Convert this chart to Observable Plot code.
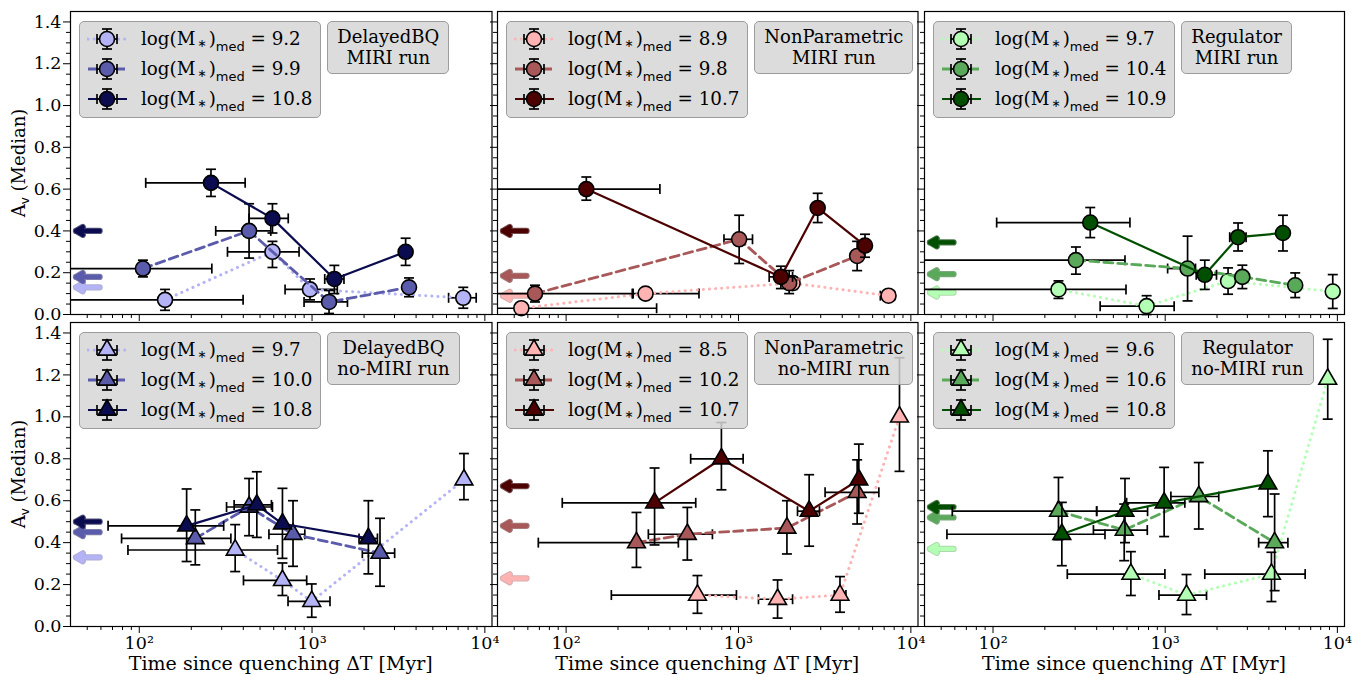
<!DOCTYPE html>
<html>
<head>
<meta charset="utf-8">
<script src="https://cdn.jsdelivr.net/npm/d3@7"></script>
<script src="https://cdn.jsdelivr.net/npm/@observablehq/plot@0.6"></script>
<style>
  body { margin: 0; background: #fff; }
  #fig { position: relative; width: 1365px; height: 675px; overflow: hidden;
         font-family: "DejaVu Serif", serif; color: #000; background: #fff; }
  #fig svg text { font-family: "DejaVu Serif", serif; }
  .overlay { position: absolute; display: flex; gap: 6px; align-items: flex-start; }
  .box { background: rgba(214, 214, 214, 0.85); border: 1px solid #9c9c9c; border-radius: 5px; }
  .legend { padding: 2px 8px 3px 7px; }
  .row { display: flex; align-items: center; height: 30px; white-space: nowrap; font-size: 18.3px; }
  .row svg { display: block; margin-right: 6px; flex: none; }
  .ast { font-family: "DejaVu Sans", sans-serif; font-size: 11px; position: relative; top: 2px; margin: 0 2px; }
  .med { font-family: "DejaVu Sans", sans-serif; font-size: 13px; position: relative; top: 6px; }
  .title { padding: 4px 9px 5px 9px; font-size: 18px; line-height: 21px; text-align: center; white-space: nowrap; }
  .ylab { position: absolute; font-size: 18px; white-space: nowrap; transform: translate(-50%, -50%) rotate(-90deg); }
  .ylab sub { font-family: "DejaVu Sans", sans-serif; font-size: 12px; }
  .xlab { position: absolute; font-size: 19px; white-space: nowrap; transform: translate(-50%, -50%); }
</style>
</head>
<body>
<div id="fig"></div>
<script>
// ---- Axis ticks ----
const xMajor = [1e2, 1e3, 1e4];
const xMinor = [50, 60, 70, 80, 90, 200, 300, 400, 500, 600, 700, 800, 900,
                2000, 3000, 4000, 5000, 6000, 7000, 8000, 9000];
const yMajor = [0, 0.2, 0.4, 0.6, 0.8, 1.0, 1.2, 1.4];
const yMinor = [0.05, 0.1, 0.15, 0.25, 0.3, 0.35, 0.45, 0.5, 0.55, 0.65, 0.7, 0.75,
                0.85, 0.9, 0.95, 1.05, 1.1, 1.15, 1.25, 1.3, 1.35];
const xDomain = [40, 11000];
const yDomain = [0, 1.45];

// Field-average reference values are marked with arrows spanning this range of ΔT
const arrowTail = 59;
const arrowTip = 43;

// ---- Series: [ΔT, Av, ΔT low, ΔT high, Av low, Av high] ----
// DelayedBQ, MIRI run
const dbqMiriMass = ["9.2", "9.9", "10.8"];
const dbqMiriLo  = [[141, 0.07, 20, 399, 0.02, 0.12], [590, 0.30, 324, 841, 0.225, 0.35],
                    [973, 0.12, 698, 1400, 0.07, 0.17], [7500, 0.08, 6170, 8910, 0.03, 0.13]];
const dbqMiriMid = [[105, 0.22, 20, 263, 0.18, 0.26], [432, 0.40, 277, 577, 0.27, 0.53],
                    [1254, 0.06, 899, 1603, 0.005, 0.115], [3640, 0.13, 3640, 3640, 0.085, 0.175]];
const dbqMiriHi  = [[260, 0.63, 109, 410, 0.565, 0.695], [590, 0.46, 432, 728, 0.39, 0.53],
                    [1346, 0.17, 1184, 1530, 0.10, 0.235], [3480, 0.30, 3480, 3480, 0.235, 0.365]];
const dbqMiriArrows = [0.13, 0.18, 0.40];

// NonParametric, MIRI run
const npMiriMass = ["8.9", "9.8", "10.7"];
const npMiriLo  = [[55, 0.03, 20, 335, 0.01, 0.05], [289, 0.10, 245, 590, 0.08, 0.12],
                   [2060, 0.15, 1950, 2200, 0.12, 0.18], [7420, 0.09, 6650, 8040, 0.065, 0.115]];
const npMiriMid = [[66, 0.10, 20, 242, 0.06, 0.14], [1009, 0.36, 824, 1206, 0.244, 0.475],
                   [1968, 0.15, 1850, 2100, 0.10, 0.21], [4880, 0.28, 4880, 4880, 0.21, 0.35]];
const npMiriHi  = [[131, 0.60, 20, 350, 0.547, 0.658], [1762, 0.18, 1507, 2060, 0.124, 0.231],
                   [2880, 0.51, 2880, 2880, 0.44, 0.58], [5420, 0.33, 5420, 5420, 0.274, 0.384]];
const npMiriArrows = [0.09, 0.185, 0.40];

// Regulator, MIRI run
const regMiriMass = ["9.7", "10.4", "10.9"];
const regMiriLo  = [[240, 0.12, 20, 592, 0.077, 0.161], [780, 0.04, 419, 1127, 0.0, 0.09],
                    [2318, 0.16, 2318, 2318, 0.097, 0.223], [9400, 0.11, 9400, 9400, 0.029, 0.191]];
const regMiriMid = [[303, 0.26, 20, 584, 0.193, 0.323], [1349, 0.22, 1033, 1500, 0.065, 0.375],
                    [2806, 0.18, 2806, 2806, 0.124, 0.236], [5690, 0.14, 5690, 5690, 0.081, 0.199]];
const regMiriHi  = [[367, 0.44, 105, 624, 0.368, 0.512], [1698, 0.19, 1514, 1986, 0.12, 0.26],
                    [2650, 0.37, 2370, 2950, 0.304, 0.438], [4830, 0.39, 4830, 4830, 0.304, 0.475]];
const regMiriArrows = [0.105, 0.193, 0.345];

// DelayedBQ, no-MIRI run
const dbqNoMass = ["9.7", "10.0", "10.8"];
const dbqNoLo  = [[359, 0.365, 86, 631, 0.262, 0.486], [674, 0.22, 401, 931, 0.148, 0.303],
                  [996, 0.12, 726, 1270, 0.044, 0.203], [7570, 0.70, 7570, 7570, 0.605, 0.825]];
const dbqNoMid = [[211, 0.42, 79, 339, 0.294, 0.556], [432, 0.57, 320, 590, 0.433, 0.706],
                  [776, 0.44, 563, 908, 0.287, 0.60], [2473, 0.35, 1954, 3006, 0.192, 0.516]];
const dbqNoHi  = [[188, 0.48, 66, 308, 0.31, 0.656], [479, 0.58, 354, 582, 0.425, 0.738],
                  [674, 0.49, 674, 674, 0.325, 0.659], [2118, 0.42, 1870, 2390, 0.251, 0.60]];
const dbqNoArrows = [0.33, 0.45, 0.50];

// NonParametric, no-MIRI run
const npNoMass = ["8.5", "10.2", "10.7"];
const npNoLo  = [[578, 0.15, 183, 973, 0.063, 0.243], [1686, 0.13, 1306, 2060, 0.04, 0.222],
                 [3880, 0.15, 3600, 4200, 0.068, 0.238], [8590, 1.00, 8590, 8590, 0.74, 1.282]];
const npNoMid = [[256, 0.40, 69, 448, 0.282, 0.544], [505, 0.44, 300, 706, 0.317, 0.568],
                 [1910, 0.47, 1910, 1910, 0.346, 0.60], [4880, 0.64, 3180, 6520, 0.489, 0.795]];
const npNoHi  = [[326, 0.59, 95, 565, 0.389, 0.756], [796, 0.80, 528, 1064, 0.652, 0.973],
                 [2570, 0.55, 2200, 2950, 0.383, 0.724], [4990, 0.70, 4990, 4990, 0.54, 0.87]];
const npNoArrows = [0.23, 0.48, 0.67];

// Regulator, no-MIRI run
const regNoMass = ["9.6", "10.6", "10.8"];
const regNoLo  = [[632, 0.25, 270, 996, 0.148, 0.357], [1330, 0.15, 920, 1738, 0.057, 0.248],
                  [4140, 0.25, 1698, 6500, 0.119, 0.354], [8790, 1.18, 8790, 8790, 0.989, 1.37]];
const regNoMid = [[240, 0.55, 58, 400, 0.414, 0.711], [578, 0.46, 383, 787, 0.314, 0.584],
                  [1567, 0.62, 1079, 2047, 0.465, 0.782], [4320, 0.40, 3490, 5160, 0.171, 0.632]];
const regNoHi  = [[251, 0.44, 54, 447, 0.29, 0.592], [584, 0.55, 400, 790, 0.40, 0.706],
                  [986, 0.59, 597, 1300, 0.429, 0.759], [3950, 0.68, 3950, 3950, 0.524, 0.838]];
const regNoArrows = [0.37, 0.52, 0.57];

// ---- Colours (low, intermediate, high mass) ----
const blues  = ["#b3b3f6", "#5b5bab", "#0b0b4f"];
const reds   = ["#ffb3b3", "#a85858", "#4d0000"];
const greens = ["#b3ffb3", "#5aa85a", "#004f00"];

const panels = [
  {col: 0, row: 0, title: ["DelayedBQ", "MIRI run"], series: [dbqMiriLo, dbqMiriMid, dbqMiriHi], mass: dbqMiriMass, arrows: dbqMiriArrows, colors: blues, symbol: "circle"},
  {col: 1, row: 0, title: ["NonParametric", "MIRI run"], series: [npMiriLo, npMiriMid, npMiriHi], mass: npMiriMass, arrows: npMiriArrows, colors: reds, symbol: "circle"},
  {col: 2, row: 0, title: ["Regulator", "MIRI run"], series: [regMiriLo, regMiriMid, regMiriHi], mass: regMiriMass, arrows: regMiriArrows, colors: greens, symbol: "circle"},
  {col: 0, row: 1, title: ["DelayedBQ", "no-MIRI run"], series: [dbqNoLo, dbqNoMid, dbqNoHi], mass: dbqNoMass, arrows: dbqNoArrows, colors: blues, symbol: "triangle"},
  {col: 1, row: 1, title: ["NonParametric", "no-MIRI run"], series: [npNoLo, npNoMid, npNoHi], mass: npNoMass, arrows: npNoArrows, colors: reds, symbol: "triangle"},
  {col: 2, row: 1, title: ["Regulator", "no-MIRI run"], series: [regNoLo, regNoMid, regNoHi], mass: regNoMass, arrows: regNoArrows, colors: greens, symbol: "triangle"}
];

// ---- Layout ----
const W = 1365, H = 675;
const colLeft = [70, 497, 924], colRight = [491.5, 917.5, 1344];
const rowTop = [11, 322], rowBottom = [314, 626];

const lineStyles = [
  {strokeWidth: 3, strokeDasharray: "0.1 6", strokeLinecap: "round"},
  {strokeWidth: 2.8, strokeDasharray: "9 5"},
  {strokeWidth: 2.2}
];
const markerR = {circle: 7.5, triangle: 6.6};
const errW = 1.7;

// Error-bar caps as custom symbols (half-length = r)
const capH = {draw(ctx, size) { const r = Math.sqrt(size / Math.PI); ctx.moveTo(-r, 0); ctx.lineTo(r, 0); }};
const capV = {draw(ctx, size) { const r = Math.sqrt(size / Math.PI); ctx.moveTo(0, -r); ctx.lineTo(0, r); }};

const sup = {2: "\u00b2", 3: "\u00b3", 4: "\u2074"};
const powFmt = d => "10" + sup[Math.round(Math.log10(d))];
const blank = () => "";

function seriesMarks(data, color, style, symbol) {
  const capsX = data.flatMap(d => [[d[2], d[1]], [d[3], d[1]]]).filter(c => c[0] >= xDomain[0]);
  const capsY = data.flatMap(d => [[d[0], d[4]], [d[0], d[5]]]);
  return [
    Plot.link(data, {x1: d => d[2], x2: d => d[3], y1: d => d[1], y2: d => d[1], stroke: "black", strokeWidth: errW}),
    Plot.link(data, {x1: d => d[0], x2: d => d[0], y1: d => d[4], y2: d => d[5], stroke: "black", strokeWidth: errW}),
    Plot.dot(capsX, {x: c => c[0], y: c => c[1], symbol: capV, r: 5, stroke: "black", strokeWidth: errW, fill: "none"}),
    Plot.dot(capsY, {x: c => c[0], y: c => c[1], symbol: capH, r: 5, stroke: "black", strokeWidth: errW, fill: "none"}),
    Plot.line(data, {x: d => d[0], y: d => d[1], stroke: color, ...style}),
    Plot.dot(data, {x: d => d[0], y: d => d[1], symbol, r: markerR[symbol], fill: color, stroke: "black", strokeWidth: 1.6})
  ];
}

function arrowMarks(values, colors) {
  return values.flatMap((v, i) => [
    Plot.arrow([v], {x1: () => arrowTail, x2: () => arrowTip, y1: d => d, y2: d => d,
                     stroke: d3.color(colors[i]).darker(0.7).formatHex(), strokeOpacity: 0.7, strokeWidth: 6.2}),
    Plot.arrow([v], {x1: () => arrowTail, x2: () => arrowTip, y1: d => d, y2: d => d,
                     stroke: colors[i], strokeWidth: 4.2})
  ]);
}

const fig = document.getElementById("fig");

for (const p of panels) {
  const svg = Plot.plot({
    width: W, height: H,
    marginLeft: colLeft[p.col], marginRight: W - colRight[p.col],
    marginTop: rowTop[p.row], marginBottom: H - rowBottom[p.row],
    style: {background: "transparent", position: "absolute", left: "0px", top: "0px",
            fontFamily: "'DejaVu Serif', serif", fontSize: "17.5px", color: "black", maxWidth: "none"},
    x: {type: "log", domain: xDomain, clamp: true, label: null},
    y: {domain: yDomain, label: null},
    marks: [
      Plot.axisY({ticks: yMinor, tickSize: 4, tickFormat: blank, label: null}),
      Plot.axisY({ticks: yMajor, tickSize: 7, tickPadding: 2, label: null,
                  tickFormat: p.col === 0 ? d3.format(".1f") : blank}),
      Plot.axisX({ticks: xMinor, tickSize: 4, tickFormat: blank, label: null}),
      Plot.axisX({ticks: xMajor, tickSize: 7, tickPadding: 3, label: null,
                  tickFormat: p.row === 1 ? powFmt : blank}),
      ...arrowMarks(p.arrows, p.colors),
      ...p.series.flatMap((s, i) => seriesMarks(s, p.colors[i], lineStyles[i], p.symbol)),
      Plot.frame({stroke: "black", strokeWidth: 1.2})
    ]
  });
  fig.appendChild(svg);
}

// ---- Legends and run labels ----
function handleSvg(color, style, symbol) {
  const dash = style.strokeDasharray ? `stroke-dasharray="${style.strokeDasharray}"` : "";
  const cap = style.strokeLinecap ? `stroke-linecap="${style.strokeLinecap}"` : "";
  const r = markerR[symbol];
  const path = d3.symbol(symbol === "circle" ? d3.symbolCircle : d3.symbolTriangle, Math.PI * r * r)();
  return `<svg width="48" height="30" viewBox="0 0 48 30">
    <line x1="1" y1="15" x2="40" y2="15" stroke="${color}" stroke-width="${style.strokeWidth}" ${dash} ${cap}/>
    <g stroke="black" stroke-width="${errW}">
      <line x1="10" y1="15" x2="30" y2="15"/><line x1="10" y1="10" x2="10" y2="20"/><line x1="30" y1="10" x2="30" y2="20"/>
      <line x1="20" y1="5" x2="20" y2="25"/><line x1="15" y1="5" x2="25" y2="5"/><line x1="15" y1="25" x2="25" y2="25"/>
    </g>
    <path transform="translate(20,15)" d="${path}" fill="${color}" stroke="black" stroke-width="1.6"/>
  </svg>`;
}

for (const p of panels) {
  const wrap = document.createElement("div");
  wrap.className = "overlay";
  wrap.style.left = (colLeft[p.col] + 9) + "px";
  wrap.style.top = (rowTop[p.row] + 9.5) + "px";
  const rows = p.mass.map((m, i) =>
    `<div class="row">${handleSvg(p.colors[i], lineStyles[i], p.symbol)}<span>log(M<span class="ast">\u2217</span>)<span class="med">med</span> = ${m}</span></div>`
  ).join("");
  wrap.innerHTML = `<div class="box legend">${rows}</div><div class="box title">${p.title.join("<br>")}</div>`;
  fig.appendChild(wrap);
}

// ---- Axis titles ----
for (const r of [0, 1]) {
  const d = document.createElement("div");
  d.className = "ylab";
  d.style.left = "20px";
  d.style.top = ((rowTop[r] + rowBottom[r]) / 2) + "px";
  d.innerHTML = "A<sub>v</sub> (Median)";
  fig.appendChild(d);
}
for (const c of [0, 1, 2]) {
  const d = document.createElement("div");
  d.className = "xlab";
  d.style.left = ((colLeft[c] + colRight[c]) / 2) + "px";
  d.style.top = "663px";
  d.textContent = "Time since quenching \u0394T [Myr]";
  fig.appendChild(d);
}
</script>
</body>
</html>
